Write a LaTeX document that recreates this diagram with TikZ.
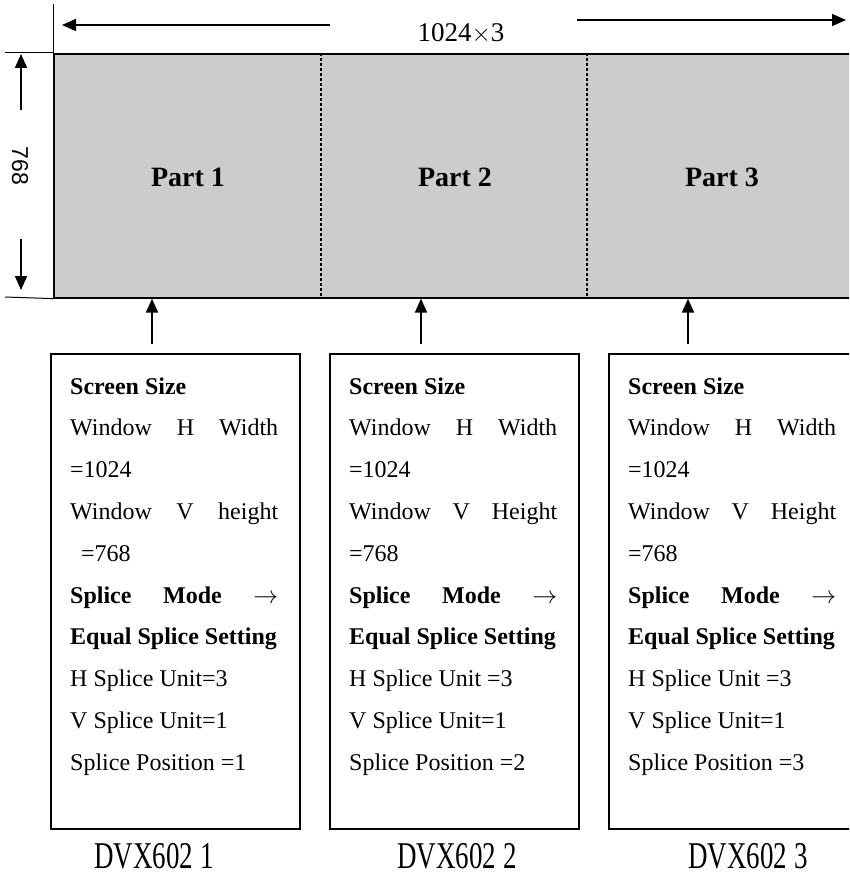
\documentclass[tikz,border=0pt]{standalone}
\usepackage{fontspec}
\setmainfont{Liberation Serif}
\newfontfamily\dimsans{Liberation Sans}
\usetikzlibrary{arrows.meta}

\definecolor{screengray}{RGB}{204,204,204}

\tikzset{
  edge/.style={line width=1.6pt},
  arr/.style={line width=1.6pt, -{Triangle[length=14pt,width=12pt]}},
  divider/.style={line width=1.2pt, dash pattern=on 3pt off 2pt},
  partlabel/.style={font=\fontsize{28}{30}\selectfont\bfseries, inner sep=0pt, anchor=base},
  bodyline/.style={font=\fontsize{24}{28}\selectfont, anchor=base west, inner sep=0pt},
  devlabel/.style={font=\fontsize{27}{30}\selectfont, inner sep=0pt, anchor=base},
  dimlabel/.style={inner sep=0pt},
}

\newcommand{\jline}[1]{\makebox[208pt][l]{#1}}
\newcommand{\tallname}[1]{\scalebox{1}[1.4]{#1}}

\begin{document}
\begin{tikzpicture}[x=1pt, y=-1pt]
  \clip (0,0) rectangle (849,875);
  \useasboundingbox (0,0) rectangle (849,875);

  % grey screen split into three parts
  \node[draw, fill=screengray, edge, anchor=north west, inner sep=0pt,
        minimum width=830pt, minimum height=244pt] (screen) at (53,53) {};
  \coordinate (d1) at (321,53);
  \coordinate (d2) at (587,53);
  \draw[divider] (d1) -- (d1 |- screen.south);
  \draw[divider] (d2) -- (d2 |- screen.south);

  \node[partlabel] (p1) at (188,186) {Part 1};
  \node[partlabel] (p2) at (455,186) {Part 2};
  \node[partlabel] (p3) at (722,186) {Part 3};

  % horizontal dimension
  \coordinate (vt0) at (53,4);
  \coordinate (vt1) at (53,68);
  \draw[line width=1pt] (vt0) -- (vt1);
  \coordinate (hl0) at (330,25);
  \coordinate (hl1) at (62,25);
  \coordinate (hr0) at (577,20);
  \coordinate (hr1) at (846,20);
  \draw[arr] (hl0) -- (hl1);
  \draw[arr] (hr0) -- (hr1);
  \node[font=\fontsize{27}{30}\selectfont, inner sep=0pt, anchor=base] (wlab) at (461,42) {1024$\times$3};

  % vertical dimension
  \coordinate (ht0) at (5,53);
  \coordinate (ht1) at (5,297);
  \draw[line width=1pt] (ht0) -- (screen.north west);
  \draw[line width=1pt] (ht1) -- (screen.south west);
  \coordinate (vu0) at (21,110);
  \coordinate (vu1) at (21,54);
  \coordinate (vd0) at (21,239);
  \coordinate (vd1) at (21,290);
  \draw[arr] (vu0) -- (vu1);
  \draw[arr] (vd0) -- (vd1);
  \node[dimlabel, font=\dimsans\fontsize{23}{26}\selectfont, rotate=-90] (hlab) at (20,166) {768};

  % device boxes
  \node[draw, edge, anchor=north west, inner sep=0pt, minimum width=249pt, minimum height=475pt] (box1) at (50,353) {};
  \node[draw, edge, anchor=north west, inner sep=0pt, minimum width=249pt, minimum height=475pt] (box2) at (329,353) {};
  \node[draw, edge, anchor=north west, inner sep=0pt, minimum width=260pt, minimum height=475pt] (box3) at (608,353) {};

  % arrows from each box up to its part
  \coordinate (a1) at (152,344);
  \coordinate (a2) at (421,344);
  \coordinate (a3) at (688,344);
  \draw[arr] (a1) -- (a1 |- screen.south);
  \draw[arr] (a2) -- (a2 |- screen.south);
  \draw[arr] (a3) -- (a3 |- screen.south);

  % box contents
  \foreach \k/\x/\hh/\ind/\hu/\pos in {1/70/height/\hspace*{11pt}/Unit=3/1, 2/349/Height//Unit =3/2, 3/628/Height//Unit =3/3} {
    \foreach \txt [count=\i from 0] in {
      {\textbf{Screen Size}},
      {\jline{Window\hfill H\hfill Width}},
      {=1024},
      {\jline{Window\hfill V\hfill \hh}},
      {\ind=768},
      {\jline{\textbf{Splice}\hfill\textbf{Mode}\hfill $\rightarrow$}},
      {\textbf{Equal Splice Setting}},
      {H Splice \hu},
      {V Splice Unit=1},
      {Splice Position =\pos}} {
      \node[bodyline] (b\k l\i) at (\x, 394 + 41.8*\i) {\txt};
    }
  }

  % device names
  \node[devlabel] (dev1) at (154,868) {\tallname{DVX602 1}};
  \node[devlabel] (dev2) at (457,868) {\tallname{DVX602 2}};
  \node[devlabel] (dev3) at (748,868) {\tallname{DVX602 3}};
\end{tikzpicture}
\end{document}
